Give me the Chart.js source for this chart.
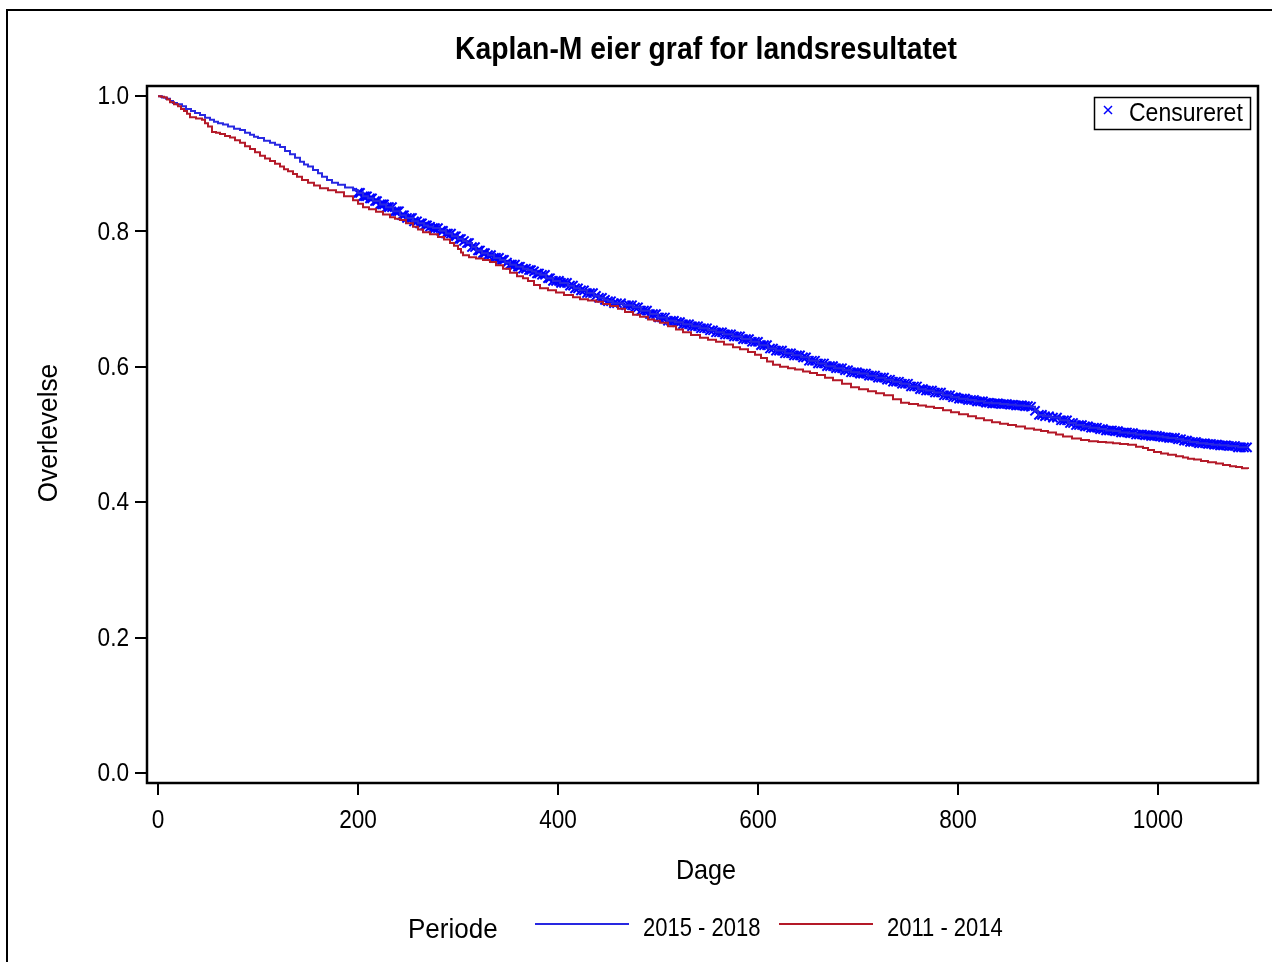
<!DOCTYPE html>
<html>
<head>
<meta charset="utf-8">
<title>Kaplan-Meier</title>
<script src="https://cdn.jsdelivr.net/npm/chart.js@4.4.1/dist/chart.umd.min.js"></script>
<style>
    body { margin: 0; background: #ffffff; }
    #chartContainer { position: relative; width: 1272px; height: 962px; }
</style>
</head>
<body>
<div id="chartContainer"><canvas id="kmChart" width="1272" height="962"></canvas></div>
<script>
// values (days / survival)
let blueDays = [0, 4, 8, 12, 15, 19, 24, 28, 33, 37, 42, 47, 52, 56, 60, 65, 70, 76, 82, 87,
    92, 96, 100, 106, 112, 117, 122, 127, 132, 137, 142, 146, 150, 155, 160, 164, 169, 174, 180, 187,
    195, 200, 205, 210, 215, 222, 228, 235, 242, 248, 255, 260, 266, 270, 275, 282, 288, 294, 300, 305,
    309, 314, 318, 324, 330, 336, 342, 347, 352, 358, 365, 370, 374, 378, 382, 388, 395, 402, 410, 416,
    422, 429, 436, 441, 446, 450, 455, 465, 475, 483, 492, 500, 509, 517, 525, 534, 542, 550, 558, 566,
    575, 584, 593, 601, 610, 618, 627, 635, 643, 651, 660, 668, 677, 685, 693, 701, 710, 718, 727, 735,
    743, 751, 760, 768, 776, 785, 793, 801, 810, 818, 826, 834, 842, 850, 858, 866, 873, 877, 880, 886,
    893, 902, 910, 918, 925, 932, 940, 948, 955, 962, 970, 978, 985, 992, 1000, 1005, 1010, 1018, 1025, 1032,
    1040, 1048, 1055, 1062, 1070, 1080, 1090];
let blueSurv = [1.0, 0.998, 0.996, 0.993, 0.99, 0.988, 0.985, 0.981, 0.978, 0.975, 0.972, 0.968, 0.965, 0.962, 0.96, 0.958, 0.955, 0.952, 0.95, 0.946,
    0.943, 0.94, 0.938, 0.934, 0.931, 0.928, 0.925, 0.919, 0.914, 0.909, 0.903, 0.899, 0.896, 0.891, 0.886, 0.881, 0.876, 0.872, 0.869, 0.865,
    0.861, 0.857, 0.852, 0.849, 0.845, 0.84, 0.836, 0.83, 0.824, 0.82, 0.815, 0.812, 0.809, 0.807, 0.805, 0.801, 0.797, 0.793, 0.789, 0.786,
    0.783, 0.777, 0.772, 0.768, 0.765, 0.761, 0.758, 0.754, 0.751, 0.748, 0.745, 0.743, 0.741, 0.738, 0.736, 0.731, 0.727, 0.724, 0.72, 0.716,
    0.713, 0.709, 0.705, 0.702, 0.699, 0.697, 0.694, 0.691, 0.688, 0.683, 0.678, 0.673, 0.668, 0.666, 0.663, 0.66, 0.657, 0.654, 0.651, 0.648,
    0.645, 0.641, 0.637, 0.632, 0.627, 0.624, 0.62, 0.617, 0.614, 0.609, 0.605, 0.601, 0.598, 0.595, 0.592, 0.59, 0.587, 0.584, 0.581, 0.578,
    0.575, 0.571, 0.567, 0.565, 0.562, 0.558, 0.555, 0.553, 0.551, 0.549, 0.547, 0.546, 0.545, 0.544, 0.543, 0.542, 0.541, 0.535, 0.529, 0.527,
    0.525, 0.521, 0.517, 0.514, 0.512, 0.51, 0.508, 0.506, 0.505, 0.503, 0.502, 0.5, 0.499, 0.498, 0.497, 0.496, 0.495, 0.493, 0.491, 0.489,
    0.487, 0.486, 0.485, 0.484, 0.483, 0.481, 0.48];

let redDays = [0, 3, 6, 9, 12, 16, 20, 23, 26, 29, 32, 38, 44, 47, 50, 54, 58, 62, 67, 72,
    77, 82, 87, 92, 97, 102, 107, 112, 117, 122, 126, 130, 135, 139, 144, 150, 156, 162, 170, 178,
    186, 195, 200, 205, 211, 218, 225, 232, 237, 242, 248, 255, 260, 265, 272, 280, 286, 292, 296, 300,
    303, 305, 311, 318, 325, 332, 338, 345, 352, 359, 365, 370, 376, 382, 390, 398, 406, 415, 422, 430,
    438, 445, 452, 460, 467, 475, 482, 490, 496, 502, 510, 518, 525, 533, 542, 550, 558, 566, 575, 582,
    590, 597, 603, 609, 615, 622, 630, 637, 645, 652, 659, 667, 675, 684, 693, 701, 710, 718, 726, 735,
    743, 751, 760, 768, 776, 785, 793, 801, 810, 818, 826, 834, 842, 850, 858, 867, 876, 883, 890, 898,
    905, 914, 923, 931, 940, 948, 955, 962, 970, 978, 985, 990, 996, 1003, 1010, 1018, 1025, 1030, 1036, 1043,
    1050, 1058, 1065, 1072, 1078, 1084, 1090];
let redSurv = [1.0, 0.999, 0.998, 0.995, 0.991, 0.988, 0.985, 0.981, 0.978, 0.974, 0.969, 0.967, 0.965, 0.96, 0.955, 0.947, 0.946, 0.944, 0.941, 0.939,
    0.935, 0.931, 0.926, 0.922, 0.917, 0.912, 0.908, 0.904, 0.9, 0.896, 0.892, 0.889, 0.885, 0.881, 0.876, 0.872, 0.868, 0.864, 0.861, 0.858,
    0.852, 0.846, 0.841, 0.836, 0.833, 0.829, 0.825, 0.821, 0.819, 0.817, 0.812, 0.807, 0.803, 0.799, 0.796, 0.792, 0.788, 0.783, 0.779, 0.774,
    0.769, 0.765, 0.762, 0.76, 0.758, 0.755, 0.75, 0.745, 0.739, 0.734, 0.731, 0.727, 0.721, 0.716, 0.713, 0.71, 0.706, 0.703, 0.7, 0.698,
    0.696, 0.693, 0.69, 0.686, 0.681, 0.677, 0.674, 0.67, 0.668, 0.665, 0.66, 0.655, 0.651, 0.647, 0.643, 0.64, 0.637, 0.633, 0.629, 0.626,
    0.622, 0.618, 0.613, 0.608, 0.603, 0.6, 0.598, 0.596, 0.593, 0.591, 0.588, 0.584, 0.58, 0.575, 0.57, 0.567, 0.564, 0.561, 0.558, 0.552,
    0.547, 0.545, 0.543, 0.541, 0.539, 0.536, 0.533, 0.53, 0.527, 0.524, 0.521, 0.518, 0.516, 0.514, 0.512, 0.509, 0.507, 0.505, 0.503, 0.5,
    0.497, 0.494, 0.492, 0.49, 0.489, 0.488, 0.487, 0.486, 0.485, 0.482, 0.48, 0.477, 0.474, 0.472, 0.47, 0.468, 0.466, 0.464, 0.463, 0.461,
    0.459, 0.457, 0.455, 0.453, 0.452, 0.45, 0.449];

// censored observations (2015 - 2018)
let censorDays = [200, 202, 205, 207, 209, 212, 214, 217, 219, 222, 224, 226, 229, 231, 234, 237, 239, 241, 244, 246,
    249, 252, 254, 256, 259, 262, 264, 267, 269, 272, 275, 277, 280, 283, 285, 288, 290, 293, 296, 298,
    301, 303, 306, 309, 311, 314, 317, 320, 322, 325, 327, 330, 333, 336, 338, 341, 344, 346, 349, 352,
    354, 357, 360, 362, 365, 368, 371, 373, 376, 379, 381, 384, 387, 390, 392, 395, 398, 401, 403, 406,
    409, 412, 415, 417, 420, 423, 426, 429, 432, 435, 438, 441, 444, 447, 450, 453, 456, 459, 463, 468,
    471, 474, 477, 480, 483, 486, 489, 492, 495, 498, 501, 504, 507, 510, 513, 516, 519, 522, 525, 528,
    531, 534, 537, 540, 543, 546, 549, 552, 555, 558, 561, 564, 567, 570, 573, 576, 579, 582, 585, 588,
    591, 594, 597, 600, 603, 606, 609, 612, 615, 618, 621, 624, 627, 630, 633, 636, 639, 642, 645, 648,
    651, 654, 657, 660, 663, 666, 669, 672, 675, 678, 681, 684, 687, 690, 693, 696, 699, 702, 705, 708,
    711, 714, 717, 720, 723, 726, 729, 732, 735, 738, 741, 744, 747, 750, 753, 756, 759, 762, 765, 768,
    771, 774, 777, 780, 783, 786, 789, 792, 795, 798, 801, 804, 807, 810, 813, 816, 819, 822, 825, 828,
    831, 834, 837, 840, 843, 846, 849, 852, 855, 858, 861, 864, 867, 870, 873, 877, 881, 884, 887, 891,
    895, 899, 903, 906, 909, 912, 915, 918, 921, 924, 927, 930, 933, 936, 939, 942, 945, 948, 951, 954,
    957, 960, 963, 966, 969, 972, 975, 978, 981, 984, 987, 990, 993, 996, 999, 1002, 1005, 1008, 1011, 1014,
    1017, 1020, 1023, 1026, 1029, 1032, 1035, 1038, 1041, 1044, 1047, 1050, 1053, 1056, 1059, 1062, 1065, 1068, 1071, 1074,
    1077, 1080, 1083, 1086, 1089];

let xTicks = [0, 200, 400, 600, 800, 1000];
let yTicks = [0.0, 0.2, 0.4, 0.6, 0.8, 1.0];

let titleText = 'Kaplan-M eier graf for landsresultatet';
let xTitle = 'Dage';
let yTitle = 'Overlevelse';
let legendTitle = 'Periode';
let seriesNames = ['2015 - 2018', '2011 - 2014'];
let censorLabel = 'Censureret';

let blueColor = 'rgb(40,40,225)';
let redColor = 'rgb(180,25,40)';
let censorColor = 'rgb(0,0,255)';
let fontName = '"Liberation Sans", Arial, sans-serif';

document.addEventListener('DOMContentLoaded', createChart);

function toPoints(days, surv) {
    let pts = [];
    for (let i = 0; i < days.length; i++) {
        pts.push({x: days[i], y: surv[i]});
    }
    return pts;
}

// censor marks sit on the KM step of the blue curve
function censorPoints() {
    let pts = [];
    for (let i = 0; i < censorDays.length; i++) {
        let d = censorDays[i];
        let s = blueSurv[0];
        for (let j = 0; j < blueDays.length; j++) {
            if (blueDays[j] <= d) s = blueSurv[j];
        }
        pts.push({x: d, y: s});
    }
    return pts;
}

// draws text squeezed a bit, like the narrow Arial of the original
function squeezedText(ctx, text, x, y, size, ratio, bold) {
    ctx.font = (bold ? 'bold ' : '') + size + 'px ' + fontName;
    let w = ctx.measureText(text).width;
    ctx.fillText(text, x, y, w * ratio);
}

let decorations = {
    id: 'decorations',
    afterDraw(chart) {
        let ctx = chart.ctx;
        let area = chart.chartArea;
        ctx.save();

        // outer frame
        ctx.strokeStyle = '#000';
        ctx.lineWidth = 2;
        ctx.beginPath();
        ctx.moveTo(7, 962);
        ctx.lineTo(7, 10);
        ctx.lineTo(1272, 10);
        ctx.stroke();

        // plot frame
        ctx.lineWidth = 2.5;
        ctx.strokeRect(area.left, area.top, area.right - area.left, area.bottom - area.top);

        ctx.fillStyle = '#000';
        ctx.textBaseline = 'middle';

        // tick labels
        ctx.textAlign = 'center';
        for (let i = 0; i < xTicks.length; i++) {
            let px = chart.scales.x.getPixelForValue(xTicks[i]);
            squeezedText(ctx, String(xTicks[i]), px, 821, 26, 0.87, false);
        }
        ctx.textAlign = 'right';
        for (let i = 0; i < yTicks.length; i++) {
            let py = chart.scales.y.getPixelForValue(yTicks[i]);
            squeezedText(ctx, yTicks[i].toFixed(1), 129, py + 1, 26, 0.87, false);
        }

        // title
        ctx.textAlign = 'center';
        ctx.font = 'bold 32px ' + fontName;
        ctx.fillText(titleText, 706, 50, 502);

        // axis titles
        squeezedText(ctx, xTitle, 706, 871, 28, 0.9, false);
        ctx.save();
        ctx.translate(50, 433);
        ctx.rotate(-Math.PI / 2);
        squeezedText(ctx, yTitle, 0, 0, 27, 0.97, false);
        ctx.restore();

        // bottom legend
        ctx.textAlign = 'left';
        squeezedText(ctx, legendTitle, 408, 930, 28, 0.93, false);
        ctx.lineWidth = 2;
        ctx.strokeStyle = blueColor;
        ctx.beginPath();
        ctx.moveTo(535, 924);
        ctx.lineTo(629, 924);
        ctx.stroke();
        squeezedText(ctx, seriesNames[0], 643, 929, 25, 0.88, false);
        ctx.strokeStyle = redColor;
        ctx.beginPath();
        ctx.moveTo(779, 924);
        ctx.lineTo(873, 924);
        ctx.stroke();
        squeezedText(ctx, seriesNames[1], 887, 929, 25, 0.88, false);

        // censor legend box
        ctx.strokeStyle = '#000';
        ctx.lineWidth = 1.5;
        ctx.strokeRect(1094.5, 97.5, 156, 32);
        ctx.strokeStyle = censorColor;
        ctx.lineWidth = 1.5;
        ctx.beginPath();
        ctx.moveTo(1104, 106);
        ctx.lineTo(1112, 114);
        ctx.moveTo(1112, 106);
        ctx.lineTo(1104, 114);
        ctx.stroke();
        squeezedText(ctx, censorLabel, 1129, 114, 25, 0.92, false);

        ctx.restore();
    }
};

function createChart() {
    let ctx = document.getElementById('kmChart');

    let data = {
        datasets: [
            {
                label: seriesNames[1],
                data: toPoints(redDays, redSurv),
                borderColor: redColor,
                borderWidth: 2,
                stepped: true,
                pointRadius: 0,
                fill: false
            },
            {
                label: seriesNames[0],
                data: toPoints(blueDays, blueSurv),
                borderColor: blueColor,
                borderWidth: 2,
                stepped: true,
                pointRadius: 0,
                fill: false
            },
            {
                label: censorLabel,
                data: censorPoints(),
                showLine: false,
                pointStyle: 'crossRot',
                pointRadius: 6.5,
                pointBorderWidth: 2,
                pointBorderColor: censorColor,
                pointBackgroundColor: censorColor
            }
        ]
    };

    let config = {
        type: 'line',
        data: data,
        options: {
            responsive: false,
            animation: false,
            layout: {
                padding: {left: 0, top: 86, right: 14, bottom: 0}
            },
            plugins: {
                legend: {display: false},
                tooltip: {enabled: false},
                title: {display: false}
            },
            scales: {
                x: {
                    type: 'linear',
                    min: -11,
                    max: 1100,
                    afterBuildTicks: (scale) => { scale.ticks = xTicks.map(v => ({value: v})); },
                    afterFit: (scale) => { scale.height = 179; },
                    border: {display: false},
                    grid: {display: true, drawOnChartArea: false, drawTicks: true, tickLength: 12, color: '#000', lineWidth: 2},
                    ticks: {
                        color: 'rgba(0,0,0,0)',
                        padding: 13,
                        maxRotation: 0,
                        font: {family: fontName, size: 22}
                    }
                },
                y: {
                    type: 'linear',
                    min: -0.015,
                    max: 1.015,
                    afterBuildTicks: (scale) => { scale.ticks = yTicks.map(v => ({value: v})); },
                    afterFit: (scale) => { scale.width = 147; },
                    border: {display: false},
                    grid: {display: true, drawOnChartArea: false, drawTicks: true, tickLength: 12, color: '#000', lineWidth: 2},
                    ticks: {
                        color: 'rgba(0,0,0,0)',
                        padding: 7,
                        font: {family: fontName, size: 22}
                    }
                }
            }
        },
        plugins: [decorations]
    };

    new Chart(ctx, config);
}
</script>
</body>
</html>
